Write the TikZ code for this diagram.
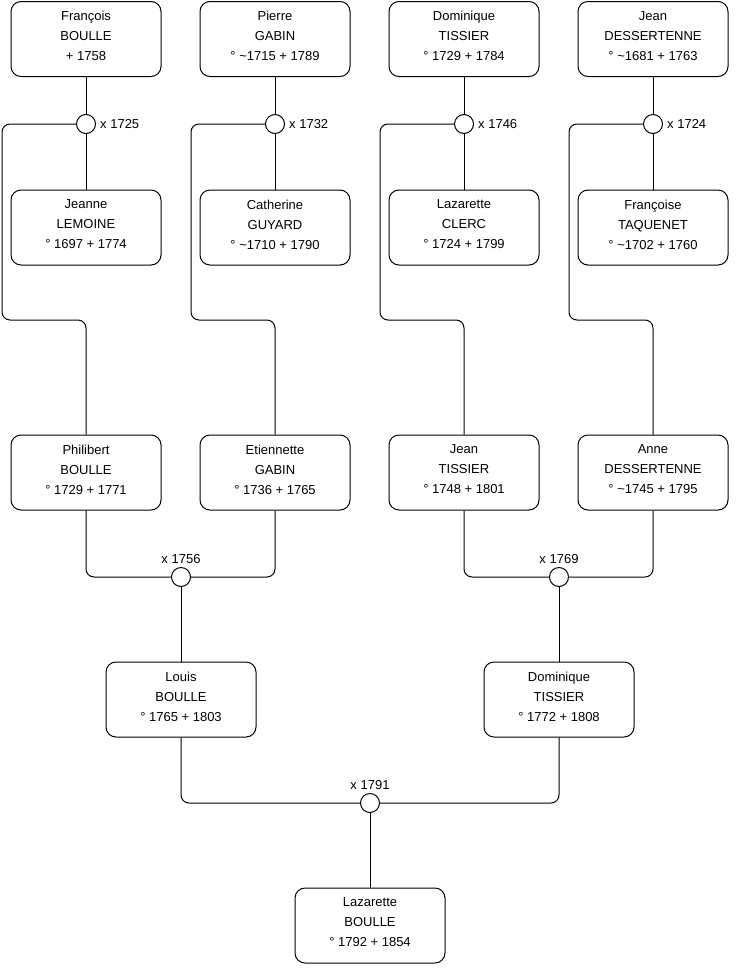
\documentclass[tikz,border=0pt]{standalone}
\usepackage{fontspec}
\setmainfont{Liberation Sans}
\usepackage{tikz}
\usetikzlibrary{positioning}

\begin{document}
\begin{tikzpicture}[
        x=1pt, y=-1pt,
        person/.style={rectangle, rounded corners=10pt, draw, line width=1pt, minimum width=150pt, minimum height=75pt, align=center, inner sep=0pt, text depth=6pt, font=\fontsize{13}{20}\selectfont},
        union/.style={circle, draw, line width=1pt, minimum size=19pt, inner sep=0pt},
        year/.style={inner sep=1pt, font=\fontsize{13}{16}\selectfont},
        link/.style={line width=1pt, rounded corners=8pt}
    ]
        \useasboundingbox (0,0) rectangle (740,975);

        % grands-parents
        \node[person] (francois) at (86, 39) {François\\BOULLE\\+ 1758};
        \node[person] (pierre) at (275, 39) {Pierre\\GABIN\\° \textasciitilde1715 + 1789};
        \node[person] (dominiqueA) at (464, 39) {Dominique\\TISSIER\\° 1729 + 1784};
        \node[person] (jeanD) at (653, 39) {Jean\\DESSERTENNE\\° \textasciitilde1681 + 1763};

        \node[union] (m1) at (86, 124) {};
        \node[union] (m2) at (275, 124) {};
        \node[union] (m3) at (464, 124) {};
        \node[union] (m4) at (653, 124) {};
        \node[year, right=3pt of m1] (y1) {x 1725};
        \node[year, right=3pt of m2] (y2) {x 1732};
        \node[year, right=3pt of m3] (y3) {x 1746};
        \node[year, right=3pt of m4] (y4) {x 1724};

        \node[person] (jeanne) at (86, 227.5) {Jeanne\\LEMOINE\\° 1697 + 1774};
        \node[person] (catherine) at (275, 227.5) {Catherine\\GUYARD\\° \textasciitilde1710 + 1790};
        \node[person] (lazaretteC) at (464, 227.5) {Lazarette\\CLERC\\° 1724 + 1799};
        \node[person] (francoise) at (653, 227.5) {Françoise\\TAQUENET\\° \textasciitilde1702 + 1760};

        % parents
        \node[person] (philibert) at (86, 472.5) {Philibert\\BOULLE\\° 1729 + 1771};
        \node[person] (etiennette) at (275, 472.5) {Etiennette\\GABIN\\° 1736 + 1765};
        \node[person] (jeanT) at (464, 472.5) {Jean\\TISSIER\\° 1748 + 1801};
        \node[person] (anne) at (653, 472.5) {Anne\\DESSERTENNE\\° \textasciitilde1745 + 1795};

        \node[union] (m5) at (181, 577) {};
        \node[union] (m6) at (559, 577) {};
        \node[year, above=2pt of m5] (y5) {x 1756};
        \node[year, above=2pt of m6] (y6) {x 1769};

        \node[person] (louis) at (181, 699.5) {Louis\\BOULLE\\° 1765 + 1803};
        \node[person] (dominiqueB) at (559, 699.5) {Dominique\\TISSIER\\° 1772 + 1808};

        \node[union] (m7) at (370, 803) {};
        \node[year, above=2pt of m7] (y7) {x 1791};

        \node[person] (lazaretteB) at (370, 925.5) {Lazarette\\BOULLE\\° 1792 + 1854};

        % liens
        \draw[link] (francois) -- (m1) -- (jeanne);
        \draw[link] (pierre) -- (m2) -- (catherine);
        \draw[link] (dominiqueA) -- (m3) -- (lazaretteC);
        \draw[link] (jeanD) -- (m4) -- (francoise);
        \draw[link] (m1) -| (2, 320) -| (philibert);
        \draw[link] (m2) -| (191, 320) -| (etiennette);
        \draw[link] (m3) -| (380, 320) -| (jeanT);
        \draw[link] (m4) -| (569, 320) -| (anne);
        \draw[link] (philibert) |- (m5) -| (etiennette);
        \draw[link] (jeanT) |- (m6) -| (anne);
        \draw[link] (m5) -- (louis);
        \draw[link] (m6) -- (dominiqueB);
        \draw[link] (louis) |- (m7) -| (dominiqueB);
        \draw[link] (m7) -- (lazaretteB);
    \end{tikzpicture}
\end{document}
